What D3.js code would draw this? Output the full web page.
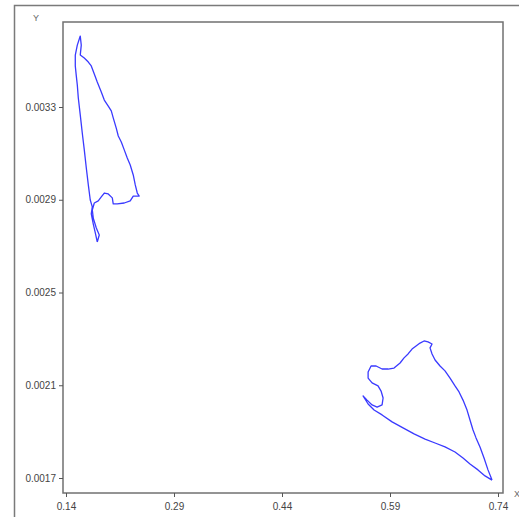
<!DOCTYPE html>
<html><head><meta charset="utf-8">
<script src="https://cdn.jsdelivr.net/npm/d3@7"></script>
<style>html,body{margin:0;padding:0;background:#fff;}svg{display:block;}</style>
</head><body>
<svg id="chart" width="519" height="517"></svg>
<script>
// Data
const xTicks = [0.14, 0.29, 0.44, 0.59, 0.74];
const yTicks = [0.0017, 0.0021, 0.0025, 0.0029, 0.0033];
const xTickLabels = ["0.14", "0.29", "0.44", "0.59", "0.74"];
const yTickLabels = ["0.0017", "0.0021", "0.0025", "0.0029", "0.0033"];
const xAxisLabel = "X";
const yAxisLabel = "Y";

// Upper loop
const loop1X = [0.1834,0.1807,0.1779,0.1751,0.1765,0.1737,0.1710,0.1682,0.1654,0.1626,0.1598,0.1571,0.1557,0.1543,0.1529,0.1529,0.1557,0.1598,0.1612,0.1598,0.1654,0.1710,0.1751,0.1793,0.1834,0.1890,0.1932,0.1987,0.2029,0.2056,0.2098,0.2126,0.2168,0.2209,0.2251,0.2292,0.2334,0.2362,0.2390,0.2417,0.2334,0.2292,0.2209,0.2112,0.2056,0.2043,0.1987,0.1932,0.1890,0.1848,0.1793,0.1765,0.1779,0.1821,0.1862,0.1834];
const loop1Y = [0.002718,0.002757,0.002795,0.002839,0.002869,0.002899,0.002964,0.003037,0.003115,0.003188,0.003266,0.003339,0.003395,0.003434,0.003477,0.003524,0.003567,0.003606,0.003567,0.003524,0.003511,0.003494,0.003477,0.003442,0.003408,0.003365,0.00333,0.003304,0.003283,0.003253,0.003209,0.003175,0.003149,0.003115,0.00308,0.00305,0.003007,0.002964,0.002929,0.002916,0.002916,0.002895,0.002886,0.002882,0.002882,0.002908,0.002925,0.002929,0.002912,0.002895,0.002886,0.002856,0.002821,0.002778,0.002748,0.002718];

// Lower loop
const loop2X = [0.7317,0.7261,0.7206,0.7150,0.7095,0.7053,0.7011,0.6970,0.6914,0.6859,0.6803,0.6734,0.6664,0.6595,0.6526,0.6484,0.6456,0.6484,0.6428,0.6373,0.6317,0.6262,0.6206,0.6151,0.6095,0.6040,0.5956,0.5873,0.5790,0.5707,0.5637,0.5596,0.5596,0.5651,0.5734,0.5776,0.5804,0.5790,0.5721,0.5651,0.5582,0.5526,0.5596,0.5679,0.5790,0.5929,0.6081,0.6234,0.6387,0.6526,0.6664,0.6803,0.6914,0.7011,0.7122,0.7220,0.7317];
const loop2Y = [0.001691,0.001735,0.001786,0.001834,0.001873,0.001907,0.00195,0.001993,0.002036,0.002071,0.002097,0.002131,0.002162,0.002183,0.002209,0.002235,0.002261,0.002278,0.002287,0.002291,0.002282,0.002269,0.002256,0.002235,0.002218,0.002196,0.002174,0.00217,0.00217,0.002183,0.002183,0.002157,0.002131,0.00211,0.002097,0.002075,0.002045,0.002015,0.002006,0.002015,0.002036,0.002054,0.002019,0.001993,0.001972,0.001942,0.001916,0.00189,0.001868,0.001851,0.001834,0.001812,0.001786,0.00176,0.001735,0.001709,0.001691];

const svg = d3.select("#chart");
const box = {left: 63, top: 22, right: 503, bottom: 493};

const x = d3.scaleLinear().domain([0.14, 0.74]).range([66, 498]);
const y = d3.scaleLinear().domain([0.0017, 0.0033]).range([478, 107]);

// outer frame
svg.append("path").attr("d", "M14.5,517 L14.5,5.5 L519,5.5")
  .attr("fill", "none").attr("stroke", "#7a7a7a").attr("stroke-width", 1.5);

// plot box
svg.append("rect").attr("x", box.left).attr("y", box.top)
  .attr("width", box.right - box.left).attr("height", box.bottom - box.top)
  .attr("fill", "#fff").attr("stroke", "#707070").attr("stroke-width", 1.5);

const fontFam = "'Liberation Sans', Arial, sans-serif";

// x axis
const xAxis = d3.axisBottom(x).tickValues(xTicks).tickSize(4).tickPadding(6)
  .tickFormat((d, i) => xTickLabels[i]);
const gx = svg.append("g").attr("transform", `translate(0,${box.bottom})`).call(xAxis);
gx.select(".domain").remove();
gx.selectAll("line").attr("stroke", "#555");
gx.selectAll("text").attr("fill", "#444").style("font-family", fontFam).style("font-size", "10px");

// y axis
const yAxis = d3.axisLeft(y).tickValues(yTicks).tickSize(4).tickPadding(3)
  .tickFormat((d, i) => yTickLabels[i]);
const gy = svg.append("g").attr("transform", `translate(${box.left},0)`).call(yAxis);
gy.select(".domain").remove();
gy.selectAll("line").attr("stroke", "#555");
gy.selectAll("text").attr("fill", "#444").style("font-family", fontFam).style("font-size", "10px");

// axis labels
svg.append("text").attr("x", 33).attr("y", 21).text(yAxisLabel)
  .attr("fill", "#666").style("font-family", fontFam).style("font-size", "9px");
svg.append("text").attr("x", 514).attr("y", 497).text(xAxisLabel)
  .attr("fill", "#666").style("font-family", fontFam).style("font-size", "9px");

// loops
const line = d3.line().x(d => x(d[0])).y(d => y(d[1]));
[[loop1X, loop1Y], [loop2X, loop2Y]].forEach(([xs, ys]) => {
  const pts = xs.map((v, i) => [v, ys[i]]);
  svg.append("path").datum(pts).attr("d", line)
    .attr("fill", "none").attr("stroke", "#3a3aff").attr("stroke-width", 1.3)
    .attr("stroke-linejoin", "round");
});
</script>
</body></html>
